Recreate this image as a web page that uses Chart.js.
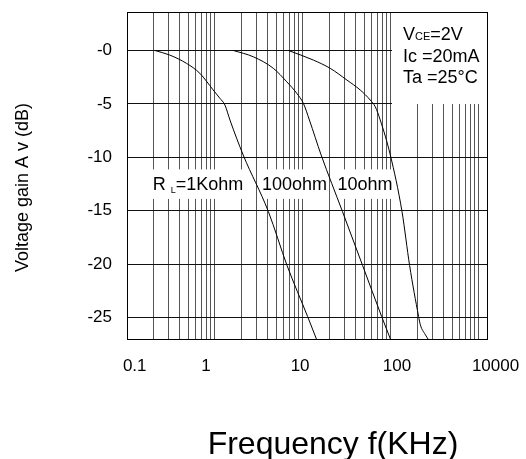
<!DOCTYPE html>
<html>
<head>
<meta charset="utf-8">
<script src="https://cdn.jsdelivr.net/npm/chart.js@4.4.0/dist/chart.umd.min.js"></script>
<style>
html, body { margin: 0; padding: 0; background: #fff; }
canvas { display: block; }
</style>
</head>
<body>
<canvas id="gainChart" width="526" height="459"></canvas>
<script>
// frequency f (KHz) / voltage gain (dB)
var freq1K = [0.207, 0.306, 0.475, 0.673, 0.954, 1.137, 1.297, 1.479, 2.09, 4.04, 6.59, 11.28, 14.36];
var gain1K = [0, -0.43, -1.21, -2.14, -3.70, -4.48, -5.11, -6.51, -9.78, -15.08, -20.13, -24.9, -27.1];

var freq100 = [1.612, 2.723, 4.60, 6.54, 8.49, 10.1, 11.83, 16.07, 28.1, 47.6, 78.3, 99.5];
var gain100 = [0, -0.59, -1.67, -2.93, -4.01, -4.95, -6.51, -9.78, -15.08, -20.13, -24.9, -27.1];

var freq10 = [6.82, 13.14, 20.35, 31.55, 44.7, 58.1, 66.2, 75.5, 98.2, 133.4, 162.8, 206, 215.6, 246, 268];
var gain10 = [0, -0.9, -1.67, -2.77, -3.70, -4.64, -5.26, -6.51, -9.78, -15.08, -20.13, -24.9, -25.68, -26.61, -27.1];

// axis ticks
var yTickVals = [0, -5, -10, -15, -20, -25];
var yTickLabels = ["-0", "-5", "-10", "-15", "-20", "-25"];
var xTickPos = [0.1224, 0.788, 9.27, 117, 1542];
var xTickLabels = ["0.1", "1", "10", "100", "10000"];
var xGridVals = [];
[0.1, 1, 10, 100].forEach(function(d) {
    for (var k = 1; k <= 9; k++) xGridVals.push(+(d * k).toPrecision(3));
});
xGridVals.push(1000);

var FONT = "'Liberation Sans', Arial, sans-serif";
Chart.defaults.font.family = FONT;
Chart.defaults.color = "#000";

function toPoints(xs, ys) {
    return xs.map(function(x, i) { return { x: x, y: ys[i] }; });
}

function curve(label, xs, ys) {
    return {
        label: label,
        data: toPoints(xs, ys),
        showLine: true,
        borderColor: "#000",
        borderWidth: 1,
        pointRadius: 0,
        cubicInterpolationMode: "monotone",
        xAxisID: "x",
        yAxisID: "y"
    };
}

// text pieces: [text, size, baseline shift]
function drawParts(ctx, parts, x, y, measureOnly) {
    var cx = x;
    parts.forEach(function(p) {
        ctx.font = p[1] + "px " + FONT;
        if (!measureOnly) ctx.fillText(p[0], cx, y + (p[2] || 0));
        cx += ctx.measureText(p[0]).width;
    });
    return cx - x;
}

var curveLabels = [
    { parts: [["R ", 18], ["L", 9, 3], ["=1Kohm", 18]], f: 0.196, db: -13.05 },
    { parts: [["100ohm", 18]], f: 3.42, db: -13.05 },
    { parts: [["10ohm", 18]], f: 24.7, db: -13.05 }
];
var condLines = [
    { parts: [["V", 18], ["CE", 11, 0], ["=2V", 18]], f: 137, db: 0.97 },
    { parts: [["Ic =20mA", 18]], f: 137, db: -1.04 },
    { parts: [["Ta =25\u00B0C", 18]], f: 137, db: -3.05 }
];

var decor = {
    id: "decor",
    beforeDatasetsDraw: function(chart) {
        var ctx = chart.ctx, a = chart.chartArea;
        var xs = chart.scales.x, ys = chart.scales.y;
        ctx.save();
        ctx.fillStyle = "#fff";
        // conditions box hides the grid
        var bx = Math.round(xs.getPixelForValue(100)) + 1;
        var by = Math.round(ys.getPixelForValue(-5));
        ctx.fillRect(bx, a.top, a.right - bx, by - a.top);
        // curve label backgrounds
        curveLabels.forEach(function(l) {
            var x = xs.getPixelForValue(l.f), y = ys.getPixelForValue(l.db);
            var w = drawParts(ctx, l.parts, x, y, true);
            ctx.fillRect(x - 3, y - 20.5, w + 5, 29.5);
        });
        ctx.restore();
    },
    afterDatasetsDraw: function(chart) {
        var ctx = chart.ctx;
        var xs = chart.scales.x, ys = chart.scales.y;
        ctx.save();
        ctx.fillStyle = "#000";
        ctx.textBaseline = "alphabetic";
        curveLabels.concat(condLines).forEach(function(l) {
            drawParts(ctx, l.parts, xs.getPixelForValue(l.f), ys.getPixelForValue(l.db), false);
        });
        ctx.restore();
    },
    afterDraw: function(chart) {
        var ctx = chart.ctx, a = chart.chartArea;
        ctx.save();
        ctx.strokeStyle = "#000";
        ctx.lineWidth = 1;
        ctx.strokeRect(Math.round(a.left) + 0.5, Math.round(a.top) + 0.5,
            Math.round(a.right) - Math.round(a.left) - 1, Math.round(a.bottom) - Math.round(a.top) - 1);
        // axis titles
        ctx.fillStyle = "#000";
        ctx.textAlign = "center";
        ctx.textBaseline = "middle";
        ctx.font = "18px " + FONT;
        ctx.translate(23, 187.5);
        ctx.rotate(-Math.PI / 2);
        ctx.fillText("Voltage gain A v (dB)", 0, 0);
        ctx.setTransform(1, 0, 0, 1, 0, 0);
        ctx.font = "32px " + FONT;
        ctx.textBaseline = "alphabetic";
        ctx.fillText("Frequency f(KHz)", 333, 454);
        ctx.restore();
    }
};

function noPad(s) {
    s.paddingTop = 0; s.paddingBottom = 0; s.paddingLeft = 0; s.paddingRight = 0;
}

new Chart(document.getElementById("gainChart"), {
    type: "scatter",
    data: {
        datasets: [
            curve("1Kohm", freq1K, gain1K),
            curve("100ohm", freq100, gain100),
            curve("10ohm", freq10, gain10)
        ]
    },
    options: {
        responsive: false,
        animation: false,
        layout: { padding: { left: 0, top: 12, right: 38, bottom: 0 } },
        plugins: { legend: { display: false }, tooltip: { enabled: false } },
        scales: {
            x: {
                type: "logarithmic",
                position: "bottom",
                min: 0.1,
                max: 1266,
                afterBuildTicks: function(s) {
                    s.ticks = xGridVals.map(function(v) { return { value: v }; });
                },
                afterFit: function(s) { s.height = 0; noPad(s); },
                ticks: { display: false },
                grid: { color: "#555", lineWidth: 1, drawTicks: false },
                border: { display: false }
            },
            x2: {
                type: "logarithmic",
                position: "bottom",
                min: 0.1,
                max: 1266,
                afterBuildTicks: function(s) {
                    s.ticks = xTickPos.map(function(v) { return { value: v }; });
                },
                afterFit: function(s) { s.height = 119; noPad(s); },
                ticks: {
                    autoSkip: false,
                    maxRotation: 0,
                    padding: 16,
                    font: { size: 17 },
                    callback: function(v, i) { return xTickLabels[i]; }
                },
                grid: { display: false, drawTicks: false },
                border: { display: false }
            },
            y: {
                type: "linear",
                min: -27.1,
                max: 3.6,
                afterBuildTicks: function(s) {
                    s.ticks = yTickVals.map(function(v) { return { value: v }; });
                },
                afterFit: function(s) { s.width = 127; noPad(s); },
                ticks: {
                    padding: 15,
                    font: { size: 17 },
                    callback: function(v, i) { return yTickLabels[i]; }
                },
                grid: { color: "#111", lineWidth: 1, drawTicks: false },
                border: { display: false }
            }
        }
    },
    plugins: [decor]
});
</script>
</body>
</html>
